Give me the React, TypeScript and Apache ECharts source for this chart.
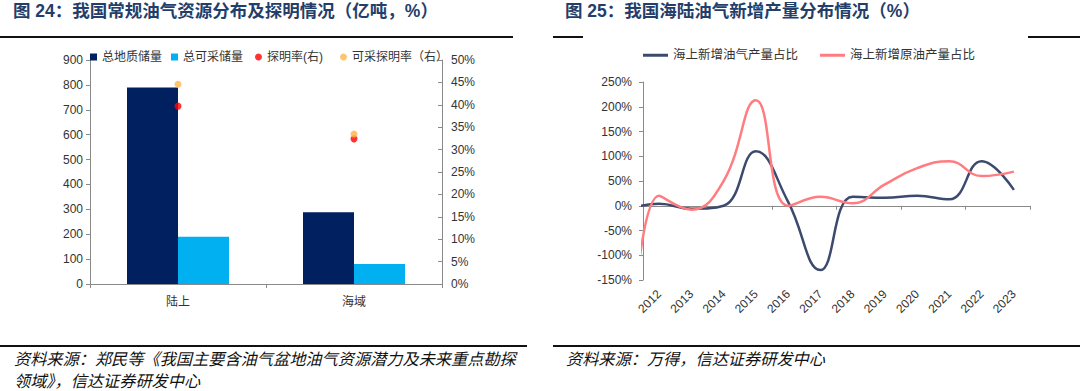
import React, { useEffect, useRef } from 'react';
import * as echarts from 'echarts';

// ---- Left chart: 我国常规油气资源分布及探明情况（亿吨，%）
const regions = ['陆上', '海域'];
const geoReserves = [790, 288]; // 总地质储量（亿吨）
const recReserves = [190, 80]; // 总可采储量（亿吨）
const provenRate = [39.7, 32.4]; // 探明率(右) %
const recProvenRate = [44.6, 33.5]; // 可采探明率（右）%

// ---- Right chart: 我国海陆油气新增产量分布情况（%）
// first entry (2011) is the lead-in point that sits just left of the plot area
const years = ['2011', '2012', '2013', '2014', '2015', '2016', '2017', '2018', '2019', '2020', '2021', '2022', '2023'];
const offshoreOilGasShare = [-8, 4, -6, 0, 110, 8, -130, 18, 16, 20, 13, 90, 32];
const offshoreCrudeShare = [-480, 20, -8, 50, 213, 0, 18, 5, 43, 76, 90, 60, 69];

const FONT = '"Liberation Sans", "Noto Sans CJK SC", sans-serif';
const AXIS_COLOR = '#8a8a8a';
const LABEL_COLOR = '#333333';

export default function App() {
  const ref = useRef<HTMLDivElement>(null);

  useEffect(() => {
    if (!ref.current) return;
    const chart = echarts.init(ref.current, undefined, { renderer: 'svg' });
    const shownYears = years.slice(1);

    const legendBase = {
      orient: 'horizontal',
      padding: 0,
      textStyle: { fontSize: 12, color: LABEL_COLOR, fontFamily: FONT },
    };

    const sourceStyle = {
      fontSize: 16.2,
      fontStyle: 'italic',
      fontFamily: '"Noto Sans CJK SC", sans-serif',
      fill: '#111',
      verticalAlign: 'middle',
    };

    const titleStyle = {
      fontSize: 17.5,
      fontWeight: 'bold',
      fontFamily: FONT,
      fill: '#243E6A',
      verticalAlign: 'middle',
    };

    chart.setOption({
      animation: false,
      textStyle: { fontFamily: FONT },
      grid: [
        { left: 90, top: 60, width: 352, height: 224 },
        { left: 643, top: 82, width: 387, height: 198 },
      ],
      legend: [
        { ...legendBase, data: ['总地质储量'], left: 90, top: 51, icon: 'rect', itemWidth: 7, itemHeight: 7 },
        { ...legendBase, data: ['总可采储量'], left: 171, top: 51, icon: 'rect', itemWidth: 7, itemHeight: 7 },
        { ...legendBase, data: ['探明率(右)'], left: 255, top: 51, icon: 'circle', itemWidth: 7, itemHeight: 7 },
        { ...legendBase, data: ['可采探明率（右）'], left: 340, top: 51, icon: 'circle', itemWidth: 7, itemHeight: 7 },
        { ...legendBase, data: ['海上新增油气产量占比'], left: 643, top: 49, icon: 'rect', itemWidth: 25, itemHeight: 3, textStyle: { fontSize: 12.5, color: LABEL_COLOR, fontFamily: FONT } },
        { ...legendBase, data: ['海上新增原油产量占比'], left: 820, top: 49, icon: 'rect', itemWidth: 25, itemHeight: 3, textStyle: { fontSize: 12.5, color: LABEL_COLOR, fontFamily: FONT } },
      ],
      xAxis: [
        {
          gridIndex: 0,
          type: 'category',
          data: regions,
          axisLine: { lineStyle: { color: AXIS_COLOR } },
          axisTick: { show: true, length: 4, lineStyle: { color: AXIS_COLOR } },
          axisLabel: { fontSize: 12, color: LABEL_COLOR, margin: 12 },
        },
        {
          gridIndex: 1,
          type: 'category',
          position: 'bottom',
          data: shownYears,
          boundaryGap: true,
          axisLine: { onZero: true, lineStyle: { color: AXIS_COLOR } },
          axisTick: { show: true, length: 4, lineStyle: { color: AXIS_COLOR } },
          axisLabel: { show: false },
        },
        {
          gridIndex: 1,
          type: 'category',
          position: 'bottom',
          data: shownYears,
          boundaryGap: true,
          axisLine: { show: false, onZero: false },
          axisTick: { show: false },
          axisLabel: { rotate: 45, fontSize: 12, color: LABEL_COLOR, margin: 12 },
        },
        {
          gridIndex: 1,
          type: 'value',
          position: 'bottom',
          min: -0.5,
          max: 11.5,
          show: false,
          axisLine: { onZero: false },
          splitLine: { show: false },
        },
      ],
      yAxis: [
        {
          gridIndex: 0,
          type: 'value',
          min: 0,
          max: 900,
          interval: 100,
          axisLine: { show: true, onZero: false, lineStyle: { color: AXIS_COLOR } },
          axisTick: { show: true, length: 4, lineStyle: { color: AXIS_COLOR } },
          splitLine: { show: false },
          axisLabel: { fontSize: 12, color: LABEL_COLOR, margin: 7 },
        },
        {
          gridIndex: 0,
          type: 'value',
          position: 'right',
          min: 0,
          max: 50,
          interval: 5,
          axisLine: { show: true, onZero: false, lineStyle: { color: AXIS_COLOR } },
          axisTick: { show: true, inside: true, length: 4, lineStyle: { color: AXIS_COLOR } },
          splitLine: { show: false },
          axisLabel: { fontSize: 12, color: LABEL_COLOR, margin: 9, formatter: '{value}%' },
        },
        {
          gridIndex: 1,
          type: 'value',
          min: -150,
          max: 250,
          interval: 50,
          axisLine: { show: true, onZero: false, lineStyle: { color: AXIS_COLOR } },
          axisTick: { show: true, length: 4, lineStyle: { color: AXIS_COLOR } },
          splitLine: { show: false },
          axisLabel: { fontSize: 12, color: LABEL_COLOR, margin: 11, formatter: '{value}%' },
        },
      ],
      series: [
        {
          name: '总地质储量',
          type: 'bar',
          xAxisIndex: 0,
          yAxisIndex: 0,
          data: geoReserves,
          barWidth: 51,
          barGap: '0%',
          itemStyle: { color: '#002060' },
        },
        {
          name: '总可采储量',
          type: 'bar',
          xAxisIndex: 0,
          yAxisIndex: 0,
          data: recReserves,
          barWidth: 51,
          barGap: '0%',
          itemStyle: { color: '#00B0F0' },
        },
        {
          name: '探明率(右)',
          type: 'scatter',
          xAxisIndex: 0,
          yAxisIndex: 1,
          data: provenRate,
          symbolSize: 7,
          itemStyle: { color: '#FF0000' },
        },
        {
          name: '可采探明率（右）',
          type: 'scatter',
          xAxisIndex: 0,
          yAxisIndex: 1,
          data: recProvenRate,
          symbolSize: 7,
          itemStyle: { color: '#FFB64A' },
        },
        {
          name: '海上新增油气产量占比',
          type: 'line',
          xAxisIndex: 3,
          yAxisIndex: 2,
          data: offshoreOilGasShare.map((v, i) => [i - 1, v]),
          smooth: 0.45,
          showSymbol: false,
          symbol: 'none',
          clip: true,
          lineStyle: { color: '#3B4A6D', width: 2.5 },
          itemStyle: { color: '#3B4A6D' },
        },
        {
          name: '海上新增原油产量占比',
          type: 'line',
          xAxisIndex: 3,
          yAxisIndex: 2,
          data: offshoreCrudeShare.map((v, i) => [i - 1, v]),
          smooth: 0.45,
          showSymbol: false,
          symbol: 'none',
          clip: true,
          lineStyle: { color: '#FF7C80', width: 2.5 },
          itemStyle: { color: '#FF7C80' },
        },
      ],
      graphic: [
        {
          type: 'text',
          x: 13,
          y: 11,
          style: { ...titleStyle, text: '图 24：我国常规油气资源分布及探明情况（亿吨，%）' },
        },
        {
          type: 'text',
          x: 565,
          y: 11,
          style: { ...titleStyle, text: '图 25：我国海陆油气新增产量分布情况（%）' },
        },
        { type: 'line', shape: { x1: 0, y1: 37, x2: 513, y2: 37 }, style: { stroke: '#111', lineWidth: 2 } },
        { type: 'line', shape: { x1: 553, y1: 37, x2: 583, y2: 37 }, style: { stroke: '#111', lineWidth: 2 } },
        { type: 'line', shape: { x1: 1028, y1: 37, x2: 1080, y2: 37 }, style: { stroke: '#111', lineWidth: 2 } },
        { type: 'line', shape: { x1: 0, y1: 346, x2: 527, y2: 346 }, style: { stroke: '#111', lineWidth: 2 } },
        { type: 'line', shape: { x1: 553, y1: 346, x2: 1080, y2: 346 }, style: { stroke: '#111', lineWidth: 2 } },
        {
          type: 'text',
          x: 14,
          y: 358,
          style: { ...sourceStyle, text: '资料来源：郑民等《我国主要含油气盆地油气资源潜力及未来重点勘探' },
        },
        {
          type: 'text',
          x: 14,
          y: 380,
          style: { ...sourceStyle, text: '领域》，信达证券研发中心' },
        },
        {
          type: 'text',
          x: 566,
          y: 358,
          style: { ...sourceStyle, text: '资料来源：万得，信达证券研发中心' },
        },
      ],
    });

    return () => chart.dispose();
  }, []);

  return (
    <div
      ref={ref}
      style={{ position: 'absolute', left: 0, top: 0, width: 1080, height: 391, background: '#fff' }}
    />
  );
}
